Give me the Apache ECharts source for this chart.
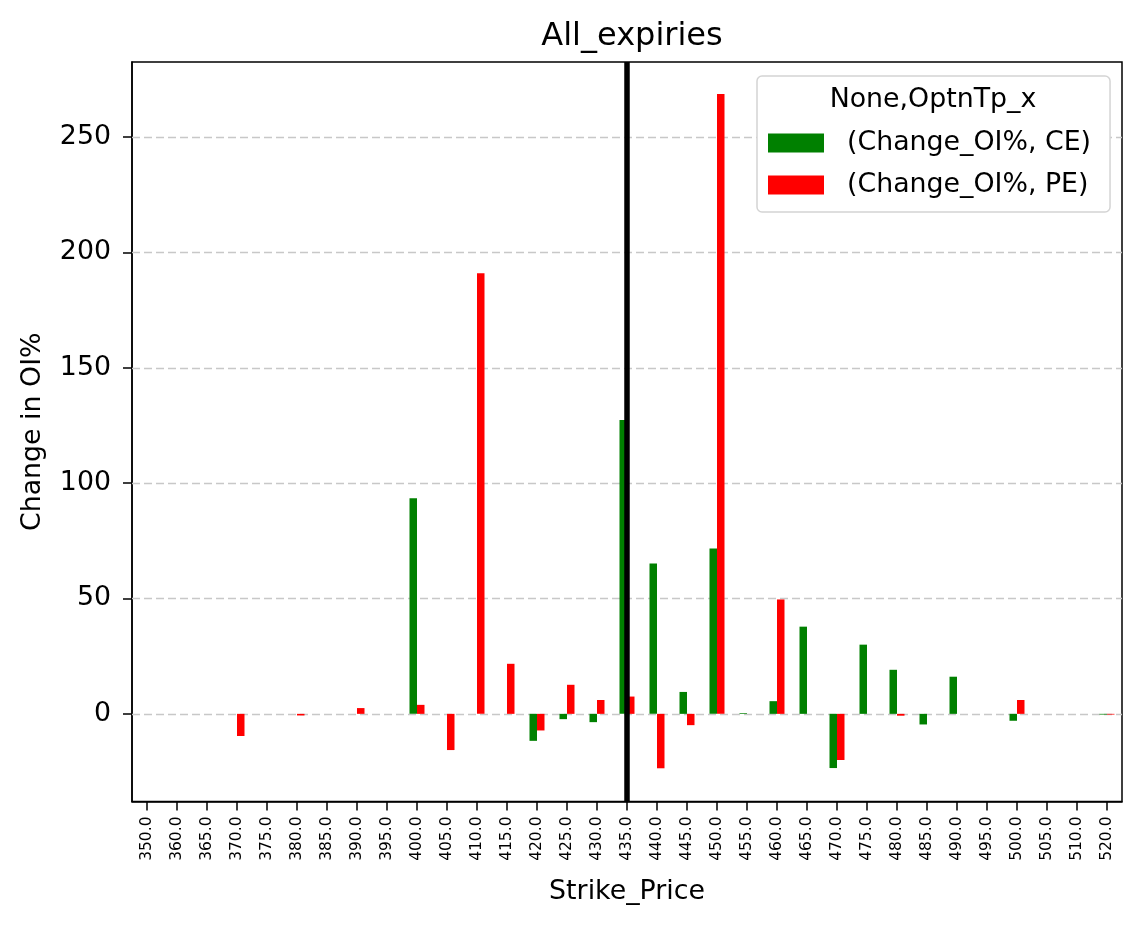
<!DOCTYPE html>
<html>
<head>
<meta charset="utf-8">
<script src="https://cdn.jsdelivr.net/npm/echarts@6/dist/echarts.min.js"></script>
<style>
  html, body { margin: 0; padding: 0; background: #fff; }
  #chart { width: 1143px; height: 928px; }
</style>
</head>
<body>
<div id="chart"></div>
<script>
/* 各行权价的持仓变化百分比 */
const strikes = ['350.0', '360.0', '365.0', '370.0', '375.0', '380.0', '385.0', '390.0', '395.0', '400.0',
  '405.0', '410.0', '415.0', '420.0', '425.0', '430.0', '435.0', '440.0', '445.0', '450.0',
  '455.0', '460.0', '465.0', '470.0', '475.0', '480.0', '485.0', '490.0', '495.0', '500.0',
  '505.0', '510.0', '520.0'];

const ceValues = [0, 0, 0, 0, 0, 0, 0, 0, 0, 93.5,
  0, 0, 0, -11.7, -2.3, -3.6, 127.4, 65.2, 9.5, 71.7,
  0.3, 5.5, 37.8, -23.5, 30, 19.1, -4.6, 16.1, 0, -3.0,
  0, 0, -0.3];

const peValues = [0, 0, 0, -9.6, 0, -0.7, 0, 2.5, 0, 3.9,
  -15.7, 191, 21.7, -7.2, 12.6, 6.0, 7.5, -23.6, -4.9, 268.7,
  0, 49.6, 0, -20, 0, -0.8, 0, 0, 0, 6.0,
  0, 0, -0.3];

const yTicks = [0, 50, 100, 150, 200, 250];
const spotStrike = '435.0';

const chart = echarts.init(document.getElementById('chart'));

const font = 'DejaVu Sans';
const fs = 26.8; // matplotlib 10pt 对应的像素

const option = {
  backgroundColor: '#fff',
  animation: false,
  textStyle: { fontFamily: font },
  title: {
    text: 'All_expiries',
    left: 627,
    textAlign: 'center',
    top: 16,
    textStyle: { fontFamily: font, fontSize: 32, fontWeight: 'normal', color: '#000' }
  },
  grid: {
    left: 132, right: 21, top: 62, bottom: 126.5,
    show: true,
    borderColor: '#000',
    borderWidth: 1.5,
    backgroundColor: 'transparent'
  },
  legend: {
    orient: 'vertical',
    left: 757,
    top: 76,
    z: 20,
    padding: [53, 19, 13, 11],
    itemWidth: 56,
    itemHeight: 19,
    itemGap: 14,
    icon: 'rect',
    backgroundColor: '#fff',
    borderColor: '#d4d4d4',
    borderWidth: 1.5,
    borderRadius: 5,
    selectedMode: false,
    textStyle: { fontFamily: font, fontSize: fs, lineHeight: 28, color: '#000', padding: [0, 0, 0, 18] },
    data: ['(Change_OI%, CE)', '(Change_OI%, PE)']
  },
  graphic: [{
    type: 'text',
    x: 933,
    y: 100,
    z: 100,
    style: {
      text: 'None,OptnTp_x',
      font: fs + 'px "DejaVu Sans"',
      fill: '#000',
      textAlign: 'center',
      textVerticalAlign: 'middle'
    }
  }],
  xAxis: {
    type: 'category',
    data: strikes,
    name: 'Strike_Price',
    nameLocation: 'middle',
    nameGap: 77,
    nameTextStyle: { fontFamily: font, fontSize: fs, color: '#000' },
    axisLine: { show: true, onZero: false, lineStyle: { color: '#000', width: 1.5 } },
    axisTick: { show: true, alignWithLabel: true, length: 9, lineStyle: { color: '#000', width: 1.5 } },
    axisLabel: { rotate: 90, fontSize: 15.5, color: '#000', margin: 15, interval: 0, fontFamily: font },
    splitLine: { show: false }
  },
  yAxis: {
    type: 'value',
    min: -38,
    max: 282.6,
    name: 'Change in OI%',
    nameLocation: 'middle',
    nameGap: 85,
    nameTextStyle: { fontFamily: font, fontSize: fs, color: '#000' },
    axisLine: { show: true, lineStyle: { color: '#000', width: 1.5 } },
    axisTick: { show: true, length: 9, customValues: yTicks, lineStyle: { color: '#000', width: 1.5 } },
    axisLabel: { fontSize: fs, color: '#000', margin: 21, customValues: yTicks, fontFamily: font },
    splitLine: { show: false }
  },
  series: [
    {
      name: '(Change_OI%, CE)',
      type: 'bar',
      data: ceValues,
      barWidth: 7.5,
      barGap: '0%',
      itemStyle: { color: '#008000' },
      markLine: {
        silent: true,
        symbol: 'none',
        z: 1,
        label: { show: false },
        lineStyle: { color: '#c8c8c8', type: [8, 4], width: 1.3 },
        data: yTicks.map(v => ({ yAxis: v }))
      }
    },
    {
      name: '(Change_OI%, PE)',
      type: 'bar',
      data: peValues,
      barWidth: 7.5,
      itemStyle: { color: '#ff0000' }
    },
    {
      name: 'spot',
      type: 'line',
      data: [],
      markLine: {
        silent: true,
        symbol: 'none',
        label: { show: false },
        lineStyle: { color: '#000', type: 'solid', width: 5.5 },
        data: [{ xAxis: spotStrike }]
      }
    }
  ]
};

chart.setOption(option);
</script>
</body>
</html>
